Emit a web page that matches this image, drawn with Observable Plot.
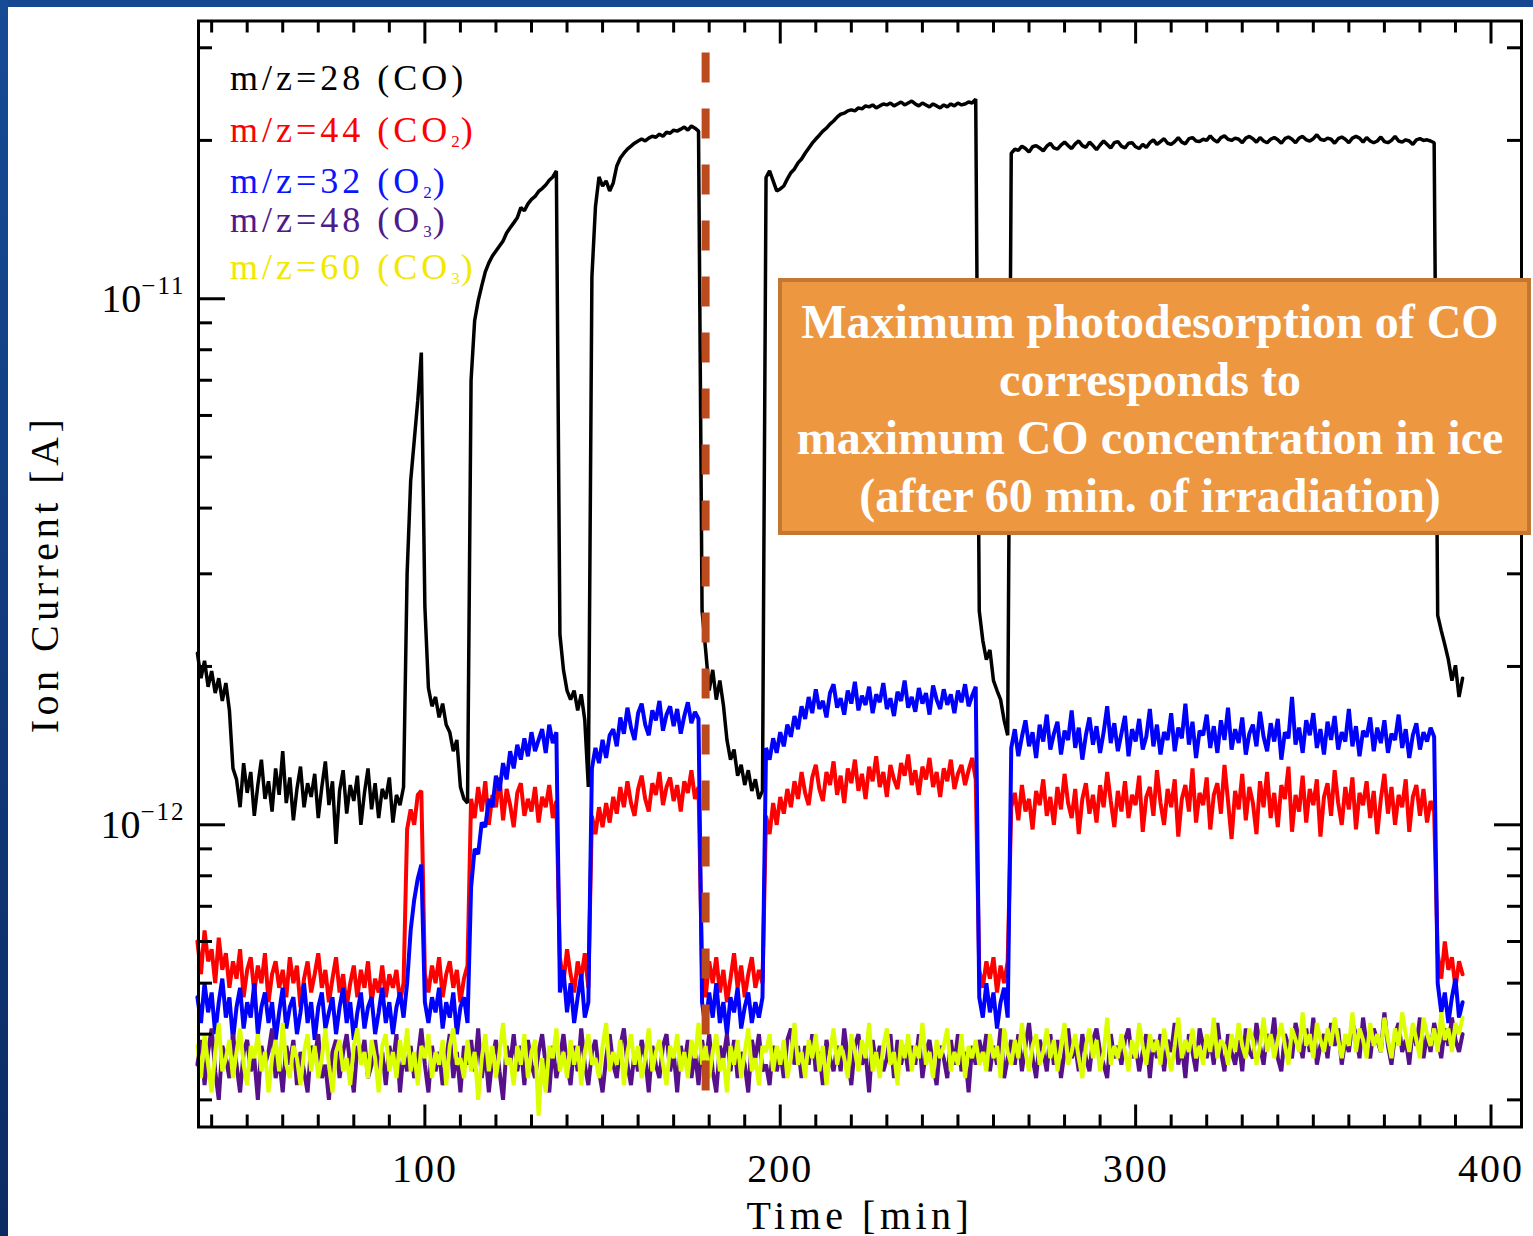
<!DOCTYPE html>
<html><head><meta charset="utf-8">
<script src="https://cdn.jsdelivr.net/npm/d3@7"></script>
<script src="https://cdn.jsdelivr.net/npm/@observablehq/plot@0.6"></script>
<style>
html,body{margin:0;padding:0;background:#fff;}
#wrap{position:relative;width:1533px;height:1236px;overflow:hidden;background:#fff;}
#wrap svg{display:block;}
#topband{position:absolute;left:0;top:0;width:1533px;height:7px;background:#154891;z-index:5;}
#leftband{position:absolute;left:0;top:0;width:8px;height:1236px;background:linear-gradient(#174b96,#0b2b63);z-index:5;}
</style></head><body><div id="wrap"><div id="topband"></div><div id="leftband"></div></div>
<script>
// ---- data (ion current in units of 1e-14 A, sampled every minute) ----
const UNIT = 1e-14;
const time = [36,37,38,39,40,41,42,43,44,45,46,47,48,49,50,51,52,53,54,55,56,57,58,59,60,61,62,63,64,65,66,67,68,69,70,71,72,73,74,75,76,77,78,79,80,81,82,83,84,85,86,87,88,89,90,91,92,93,94,95,96,97,98,99,100,101,102,103,104,105,106,107,108,109,110,111,112,113,114,115,116,117,118,119,120,121,122,123,124,125,126,127,128,129,130,131,132,133,134,135,136,137,138,139,140,141,142,143,144,145,146,147,148,149,150,151,152,153,154,155,156,157,158,159,160,161,162,163,164,165,166,167,168,169,170,171,172,173,174,175,176,177,178,179,180,181,182,183,184,185,186,187,188,189,190,191,192,193,194,195,196,197,198,199,200,201,202,203,204,205,206,207,208,209,210,211,212,213,214,215,216,217,218,219,220,221,222,223,224,225,226,227,228,229,230,231,232,233,234,235,236,237,238,239,240,241,242,243,244,245,246,247,248,249,250,251,252,253,254,255,256,257,258,259,260,261,262,263,264,265,266,267,268,269,270,271,272,273,274,275,276,277,278,279,280,281,282,283,284,285,286,287,288,289,290,291,292,293,294,295,296,297,298,299,300,301,302,303,304,305,306,307,308,309,310,311,312,313,314,315,316,317,318,319,320,321,322,323,324,325,326,327,328,329,330,331,332,333,334,335,336,337,338,339,340,341,342,343,344,345,346,347,348,349,350,351,352,353,354,355,356,357,358,359,360,361,362,363,364,365,366,367,368,369,370,371,372,373,374,375,376,377,378,379,380,381,382,383,384,385,386,387,388,389,390,391,392];
// m/z=28 (CO)
const co28 = [212,190,205,183,196,178,190,172,186,165,
128,122,108,131,115,126,104,119,133,112,
121,106,128,114,138,110,123,102,117,129,
108,120,113,125,103,118,132,109,121,92,
116,127,105,119,111,124,100,115,128,107,
120,103,117,112,123,101,114,109,118,300,
450,537,640,790,260,182,168,175,160,170,
155,150,138,145,118,112,110,700,908,991,
1058,1125,1170,1206,1233,1260,1288,1334,1364,1394,
1425,1490,1470,1515,1545,1565,1600,1620,1645,1680,
1704,1750,230,197,180,173,180,165,177,158,
118,1100,1496,1704,1638,1675,1603,1660,1788,1852,
1891,1925,1950,1976,1995,2012,1995,2020,2037,2028,
2055,2037,2073,2064,2092,2083,2101,2120,2092,2130,
2110,2083,255,215,180,197,173,188,169,145,
133,139,124,130,119,127,116,122,112,116,
1700,1750,1675,1603,1617,1638,1690,1736,1765,1813,
1844,1891,1933,1976,2012,2046,2083,2110,2148,2177,
2214,2243,2253,2276,2286,2276,2306,2296,2326,2316,
2336,2306,2326,2346,2336,2356,2326,2346,2366,2336,
2356,2376,2346,2326,2356,2336,2316,2346,2326,2306,
2336,2316,2346,2326,2356,2336,2346,2366,2356,2396,
255,224,206,215,188,180,173,158,148,1890,
1925,1915,1950,1930,1900,1945,1955,1935,1910,1950,
1975,1935,1925,1960,1985,1955,1930,1970,1995,1955,
1940,1985,1955,1920,1960,1995,1965,1935,1980,1990,
1950,1935,1975,1980,1945,1930,1965,1940,1980,2005,
1965,1990,2015,1975,1965,1990,2025,1985,1970,2015,
2025,1995,1990,2010,2000,2040,2005,1985,2025,2040,
2010,2000,2020,2010,1980,2020,2035,2015,1985,2025,
1995,1980,2010,2025,2005,1975,2015,2030,2010,1980,
2020,2035,2005,1995,2015,2050,2010,2000,2020,2010,
1975,2015,2030,2010,1980,2020,2035,2020,1985,2025,
1995,1980,1995,2030,1990,1980,2000,2035,1995,1985,
2005,1995,1965,2005,2015,2000,2005,1995,1980,250,
234,220,206,188,201,175,190];
// m/z=44 (CO2)
const co2_44 = [60,52,63,55,58,50,61,53,57,49,
55,51,58,47,53,56,48,54,50,57,
46,52,55,49,53,47,56,50,54,45,
51,55,48,52,57,49,53,46,51,56,
48,52,45,50,54,47,53,49,55,46,
51,48,54,47,52,49,53,46,50,98,
107,100,114,116,52,48,54,50,56,47,
52,55,49,53,46,51,54,112,103,118,
106,121,100,114,108,123,102,117,109,99,
115,120,104,112,106,118,101,113,108,119,
103,111,56,50,58,52,48,55,51,57,
49,104,96,108,99,110,101,113,105,118,
108,121,110,104,117,124,112,106,120,114,
126,109,118,123,111,119,106,121,115,127,
112,118,53,47,55,50,56,48,53,46,
51,57,49,54,47,52,56,49,53,50,
104,96,110,100,113,105,117,108,121,112,
126,115,109,123,130,117,111,126,119,132,
114,124,110,128,120,133,116,125,112,129,
121,135,118,126,113,130,122,117,131,124,
136,119,127,114,129,122,134,118,126,113,
128,121,133,117,125,130,119,127,134,122,
53,49,55,51,56,48,54,50,55,108,
115,102,119,106,112,98,116,109,122,104,
113,100,118,107,125,110,103,117,96,112,
120,105,114,101,119,108,126,111,99,116,
106,121,103,114,109,124,97,113,118,104,
127,110,100,117,108,122,95,112,119,106,
128,101,115,109,123,98,114,120,105,130,
111,94,116,107,125,102,118,110,96,121,
108,126,103,115,99,119,112,129,97,114,
106,124,101,117,109,122,95,113,120,104,
127,110,100,118,107,123,98,115,109,121,
103,116,96,112,125,105,118,100,114,108,
122,97,113,119,104,117,101,111,106,57,
51,60,53,56,49,55,52];
// m/z=32 (O2)
const o2_32 = [47,42,50,44,48,40,46,51,43,47,
39,45,49,41,46,43,50,40,45,48,
42,46,39,44,49,41,45,47,40,44,
50,42,46,39,45,48,41,44,47,40,
45,49,42,46,39,44,48,41,45,47,
40,44,49,42,46,40,45,48,43,50,
63,72,79,84,46,42,47,44,49,41,
46,43,48,40,45,47,42,76,90,88,
101,99,112,108,124,116,131,122,138,128,
142,133,146,135,150,138,145,152,137,155,
143,150,48,53,44,50,42,47,52,43,
46,128,140,131,145,134,148,152,141,160,
149,167,153,145,163,170,155,148,165,158,
172,151,162,168,154,166,149,161,171,156,
164,159,46,41,48,43,50,42,46,40,
47,44,49,41,45,48,42,46,43,47,
140,133,146,137,150,141,155,147,161,152,
168,159,175,163,181,166,172,160,178,185,
167,174,162,180,170,187,165,176,169,183,
163,177,171,186,166,174,161,179,172,188,
167,175,164,182,170,178,162,184,173,166,
181,169,177,163,180,171,185,168,176,183,
47,43,50,44,48,41,46,49,43,140,
152,135,147,158,141,150,134,155,144,162,
139,149,157,136,151,145,165,140,153,133,
148,160,142,154,137,150,168,143,156,138,
149,161,135,152,144,159,139,147,166,141,
155,136,150,145,163,138,153,146,170,142,
157,134,151,148,162,140,154,137,158,145,
167,139,152,143,160,136,149,155,141,164,
147,138,156,144,159,133,150,146,175,142,
153,137,158,148,163,140,152,136,157,145,
161,139,150,144,166,141,154,135,151,147,
160,138,153,143,158,137,149,145,162,140,
152,134,148,156,139,150,144,153,147,50,
44,48,42,47,51,43,46];
// m/z=48 (O3)
const o3_48 = [35,39,32,37,41,34,30,38,36,33,
40,35,31,37,39,34,36,30,38,35,
37,41,33,36,31,38,35,39,32,37,
34,31,38,36,40,33,35,30,37,39,
33,37,40,35,31,38,36,39,33,35,
39,34,37,32,38,35,40,31,37,34,
38,33,36,41,35,31,38,34,37,32,
36,40,33,37,31,38,35,39,34,41,
33,37,31,36,39,34,30,38,35,40,
34,38,32,39,35,33,37,40,35,31,
38,33,36,40,35,32,38,34,41,35,
32,37,39,34,31,36,40,35,33,38,
41,35,32,37,34,39,36,31,38,35,
33,38,40,34,37,31,38,35,39,33,
37,32,39,35,40,34,31,38,36,40,
34,39,33,37,35,31,39,36,40,34,
35,32,38,34,37,33,39,41,35,38,
33,38,35,40,34,37,32,39,36,34,
38,34,41,36,32,38,40,35,37,31,
39,35,38,34,36,40,33,39,35,38,
34,38,35,40,33,37,39,35,32,38,
36,33,39,35,40,34,37,31,38,35,
39,36,40,34,38,35,41,33,36,39,
35,40,34,38,42,36,33,39,37,34,
40,35,39,33,37,41,36,38,34,40,
36,34,39,41,37,35,33,40,36,38,
35,39,41,36,38,34,37,40,33,39,
36,40,34,39,37,42,35,38,33,40,
37,34,41,38,36,39,35,42,37,34,
40,37,35,39,34,41,37,36,42,38,
35,40,38,43,36,34,40,38,36,42,
39,36,41,37,43,35,38,40,36,42,
38,41,35,39,37,42,40,36,43,38,
36,41,39,37,44,38,35,40,42,37,
39,35,41,38,43,36,40,37,42,39,
36,41,38,43,39,37,40];
// m/z=60 (CO3)
const co3_60 = [38,33,40,35,31,37,42,34,36,39,
33,37,41,35,32,38,36,40,34,37,
31,36,39,34,42,35,33,38,36,32,
37,40,34,38,33,36,41,35,31,37,
39,34,36,32,38,41,35,37,33,39,
36,31,38,40,34,37,33,39,35,41,
34,37,32,38,36,40,33,37,35,39,
32,38,41,35,36,33,39,34,37,30,
36,40,34,38,33,37,42,35,36,32,
38,35,40,33,37,39,28,36,31,38,
36,41,34,37,33,39,35,38,32,37,
40,35,36,33,38,42,34,37,35,39,
32,37,40,35,38,33,36,41,34,37,
39,35,32,38,36,40,34,37,33,39,
36,42,35,38,33,37,40,34,36,31,
38,35,39,33,37,41,34,36,32,38,
37,40,34,38,35,39,33,36,42,35,
37,33,39,36,40,34,38,32,37,41,
35,38,36,33,40,37,34,39,36,42,
34,37,33,38,41,35,37,32,39,36,
40,34,38,36,42,35,37,33,39,36,
38,41,34,37,35,40,33,38,36,39,
35,37,34,40,36,38,33,41,37,35,
39,36,42,37,34,38,40,35,37,41,
36,39,34,38,42,35,37,40,36,33,
38,41,36,39,34,37,43,35,38,36,
40,37,34,39,36,42,38,35,40,37,
39,35,41,37,34,38,43,36,39,37,
41,36,38,35,40,37,43,36,39,38,
35,40,37,42,38,36,41,39,35,38,
43,37,40,36,39,42,38,35,41,39,
37,44,38,40,36,42,39,37,41,38,
43,39,36,40,38,44,37,41,39,36,
42,38,40,37,43,39,36,41,38,44,
40,37,42,39,36,43,40,38,41,37,
44,39,41,37,42,40,43];

const markerTime = [179]; // end of 60 min irradiation marker
const xMajor = [100, 200, 300, 400];
const xMinor = [40,50,60,70,80,90,110,120,130,140,150,160,170,180,190,210,220,230,240,250,260,270,280,290,310,320,330,340,350,360,370,380,390];
const yMajor = [1e-12, 1e-11];
const yMinor = [3e-13,4e-13,5e-13,6e-13,7e-13,8e-13,9e-13,2e-12,3e-12,4e-12,5e-12,6e-12,7e-12,8e-12,9e-12,2e-11,3e-11];
const legendLabels = [
  ["m/z=28 (CO)"],
  ["m/z=44 (CO", {sub: "2"}, ")"],
  ["m/z=32 (O", {sub: "2"}, ")"],
  ["m/z=48 (O", {sub: "3"}, ")"],
  ["m/z=60 (CO", {sub: "3"}, ")"]
];
const boxLines = ["Maximum photodesorption of CO", "corresponds to", "maximum CO concentration in ice", "(after 60 min. of irradiation)"];
const xLabel = "Time [min]";
const yLabel = "Ion Current [A]";

// ---- styles & layout ----
const seriesValues = [co28, co2_44, o2_32, o3_48, co3_60];
const lineColors = ["#000000", "#ff0000", "#0000ff", "#56108c", "#dcff00"];
const lineWidths = [3.5, 4, 4, 4, 4];
const legendColors = ["#000000", "#ff0000", "#0a14ff", "#4f1a8a", "#f2e800"];
const legendBaselines = [90, 142, 193, 232, 279];

const W = 1533, H = 1236, mL = 198, mR = 12, mT = 20.5, mB = 109.5;
const innerW = W - mL - mR, innerH = H - mT - mB;
const rows = vals => time.map((t, i) => ({t, v: vals[i] * UNIT}));

const chart = Plot.plot({
  width: W, height: H,
  marginLeft: mL, marginRight: mR, marginTop: mT, marginBottom: mB,
  style: {fontFamily: "'Liberation Serif', serif", fontSize: "40px", background: "transparent", overflow: "visible"},
  x: {domain: [36.3, 408.58]},
  y: {type: "log", domain: [2.664e-13, 3.373e-11]},
  marks: [
    ...seriesValues.map((vals, i) => Plot.line(rows(vals), {x: "t", y: "v", stroke: lineColors[i], strokeWidth: lineWidths[i], strokeLinejoin: "miter"})),
    Plot.ruleX(markerTime, {x: d => d, stroke: "#bb4a1c", strokeWidth: 8, strokeDasharray: "30,26", insetTop: 32, insetBottom: 36}),
    Plot.frame({stroke: "#000", strokeWidth: 3}),
    Plot.tickX(xMinor, {x: d => d, insetTop: innerH - 12, strokeWidth: 3}),
    Plot.tickX(xMajor, {x: d => d, insetTop: innerH - 22, strokeWidth: 3}),
    Plot.tickX(xMinor, {x: d => d, insetBottom: innerH - 12, strokeWidth: 3}),
    Plot.tickX(xMajor, {x: d => d, insetBottom: innerH - 23, strokeWidth: 3}),
    Plot.tickY(yMinor, {y: d => d, insetRight: innerW - 14, strokeWidth: 3}),
    Plot.tickY(yMajor, {y: d => d, insetRight: innerW - 27, strokeWidth: 3}),
    Plot.tickY(yMinor, {y: d => d, insetLeft: innerW - 14, strokeWidth: 3}),
    Plot.tickY(yMajor, {y: d => d, insetLeft: innerW - 27, strokeWidth: 3}),
    Plot.axisX({ticks: xMajor, tickSize: 0, tickPadding: 27, fontSize: 40, label: null, tickFormat: d => String(d)}),
    Plot.axisY({ticks: yMajor, tickSize: 0, tickPadding: 13, fontSize: 40, label: null, tickFormat: d => "10\u2212" + Math.round(-Math.log10(d))}),
    Plot.text([xLabel], {text: d => d, frameAnchor: "bottom", textAnchor: "middle", lineAnchor: "bottom", dy: 101.5, fontSize: 40}),
    Plot.text([yLabel], {text: d => d, frameAnchor: "left", textAnchor: "middle", rotate: -90, dx: -153, fontSize: 40})
  ]
});

document.getElementById("wrap").prepend(chart);
const svg = d3.select(chart);

// superscript exponents on y tick labels
svg.selectAll('g[aria-label="y-axis tick label"] text').each(function () {
  const s = this.textContent;
  const base = s.slice(0, 2), exp = s.slice(2);
  const sel = d3.select(this);
  sel.text(null);
  sel.append("tspan").text(base);
  sel.append("tspan").attr("font-size", 25).attr("dy", -18).style("letter-spacing", "2px").text(exp);
});
svg.selectAll('g[aria-label="x-axis tick label"] text').style("letter-spacing", "2px");
svg.selectAll('g[aria-label="text"] text').style("letter-spacing", "4.5px");

// legend (under the data lines)
const lg = svg.insert("g", ":first-child")
  .attr("font-family", "'Liberation Serif', serif").attr("font-size", 36)
  .attr("text-anchor", "start").style("letter-spacing", "4px");
legendLabels.forEach((parts, i) => {
  const t = lg.append("text").attr("x", 230).attr("y", legendBaselines[i]).attr("fill", legendColors[i]).attr("text-anchor", "start");
  let shifted = false;
  parts.forEach(p => {
    if (typeof p === "string") {
      const ts = t.append("tspan").text(p);
      if (shifted) { ts.attr("dy", -5); shifted = false; }
    } else {
      t.append("tspan").attr("font-size", 17).attr("dy", 5).style("letter-spacing", "1px").text(p.sub);
      shifted = true;
    }
  });
});

// annotation box
const box = svg.append("g");
box.append("rect").attr("x", 780).attr("y", 280).attr("width", 749).attr("height", 253)
  .attr("fill", "#ed9741").attr("stroke", "#c27832").attr("stroke-width", 4);
const boxBaselines = [338, 396, 454, 512];
boxLines.forEach((line, i) => {
  box.append("text").attr("x", 1150).attr("y", boxBaselines[i]).attr("text-anchor", "middle")
    .attr("font-family", "'Liberation Serif', serif").attr("font-weight", "bold").attr("font-size", 48)
    .attr("fill", "#ffffff").text(line);
});
</script>
</body></html>
